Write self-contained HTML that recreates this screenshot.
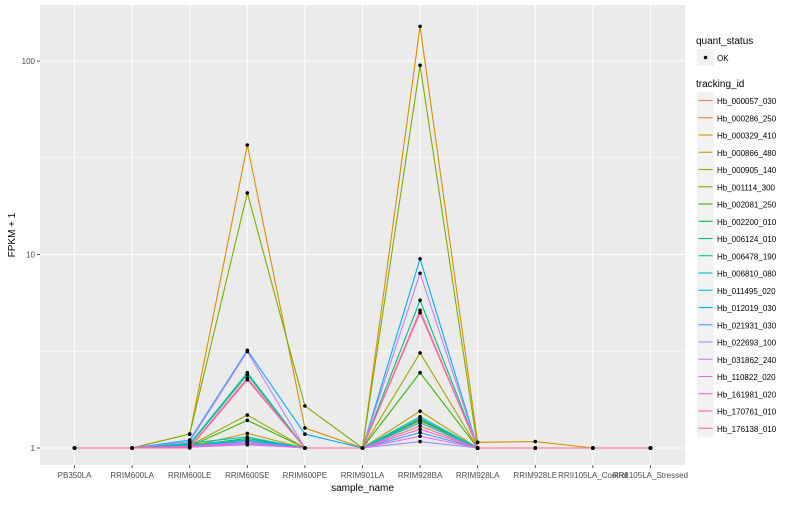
<!DOCTYPE html>
<html><head><meta charset="utf-8"><style>
body{margin:0;background:#fff;font-family:"Liberation Sans",sans-serif}
svg text{font-family:"Liberation Sans",sans-serif}
</style></head><body>
<svg id="c" width="800" height="500"></svg>
<script>
const categories=["PB350LA","RRIM600LA","RRIM600LE","RRIM600SE","RRIM600PE","RRIM901LA","RRIM928BA","RRIM928LA","RRIM928LE","RRII105LA_Control","RRII105LA_Stressed"];
const seriesNames=["Hb_000057_030","Hb_000286_250","Hb_000329_410","Hb_000866_480","Hb_000905_140","Hb_001114_300","Hb_002081_250","Hb_002200_010","Hb_006124_010","Hb_006478_190","Hb_006810_080","Hb_011495_020","Hb_012019_030","Hb_021931_030","Hb_022693_100","Hb_031862_240","Hb_110822_020","Hb_161981_020","Hb_170761_010","Hb_176138_010"];
const colors=["#F8766D","#EA8331","#D89000","#C09B00","#A3A500","#7CAE00","#39B600","#00BB4E","#00BF7D","#00C1A3","#00BFC4","#00BAE0","#00B0F6","#35A2FF","#9590FF","#C77CFF","#E76BF3","#FA62DB","#FF62BC","#FF6C91"];
const s01=[1,1,1.03,1.1,1,1,1.3,1,1,1,1];
const s02=[1,1,1.05,1.08,1,1,1.38,1,1,1,1];
const s03=[1,1,1.18,36.8,1.27,1,151,1.07,1.08,1,1];
const s04=[1,1,1.02,1.19,1,1,1.55,1,1,1,1];
const s05=[1,1,1.03,1.48,1,1,3.1,1,1,1,1];
const s06=[1,1,1.18,20.8,1.65,1,95,1,1,1,1];
const s07=[1,1,1.02,1.39,1,1,2.45,1,1,1,1];
const s08=[1,1,1.03,1.12,1,1,1.4,1,1,1,1];
const s09=[1,1,1.04,2.4,1,1,5.8,1,1,1,1];
const s10=[1,1,1.05,2.45,1,1,1.42,1,1,1,1];
const s11=[1,1,1.06,1.14,1,1,1.45,1,1,1,1];
const s12=[1,1,1.03,1.1,1,1,1.35,1,1,1,1];
const s13=[1,1,1.1,3.2,1.18,1,9.5,1,1,1,1];
const s14=[1,1,1.02,1.08,1,1,1.2,1,1,1,1];
const s15=[1,1,1.01,1.04,1,1,1.08,1,1,1,1];
const s16=[1,1,1.08,3.15,1,1,8,1,1,1,1];
const s17=[1,1,1.02,1.06,1,1,1.15,1,1,1,1];
const s18=[1,1,1.01,1.05,1,1,1.25,1,1,1,1];
const s19=[1,1,1.01,2.3,1,1,5.0,1,1,1,1];
const s20=[1,1,1.0,2.25,1,1,5.15,1,1,1,1];
const seriesValues=[s01,s02,s03,s04,s05,s06,s07,s08,s09,s10,s11,s12,s13,s14,s15,s16,s17,s18,s19,s20];
const yTicks=[1,10,100];
const yMinor=[Math.sqrt(10),Math.sqrt(1000)];

const NS="http://www.w3.org/2000/svg";
const svg=document.getElementById('c');
function el(tag,attrs,parent){const e=document.createElementNS(NS,tag);for(const k in attrs)e.setAttribute(k,attrs[k]);(parent||svg).appendChild(e);return e;}
const PL=40,PR=685,PT=5,PB=465;
const xs=i=>PL+(i+0.6)*(PR-PL)/(categories.length+0.2);
const ys=v=>448-Math.log10(v)*193.5;

const panel=el('rect',{x:PL,y:PT,width:PR-PL,height:PB-PT,fill:'#EBEBEB'});


yMinor.forEach(v=>{const l=el('line',{x1:PL,x2:PR,y1:ys(v),y2:ys(v),stroke:'#fff','stroke-width':0.5});

});
yTicks.forEach(v=>{const l=el('line',{x1:PL,x2:PR,y1:ys(v),y2:ys(v),stroke:'#fff','stroke-width':1});


const t=el('text',{x:35,y:ys(v)+3,'text-anchor':'end','font-size':8,fill:'#4D4D4D'});t.textContent=v;


el('line',{x1:37,x2:PL,y1:ys(v),y2:ys(v),stroke:'#333','stroke-width':0.8});});
categories.forEach((c,i)=>{const l=el('line',{x1:xs(i),x2:xs(i),y1:PT,y2:PB,stroke:'#fff','stroke-width':1});


el('line',{x1:xs(i),x2:xs(i),y1:PB,y2:PB+3,stroke:'#333','stroke-width':0.8});
const t=el('text',{x:xs(i),y:478,'text-anchor':'middle','font-size':8,fill:'#4D4D4D'});t.textContent=c;

});
seriesValues.forEach((vals,si)=>{
 const p=el('polyline',{points:vals.map((v,i)=>xs(i)+','+ys(v)).join(' '),fill:'none',stroke:colors[si],'stroke-width':1.1});
 
 
});
seriesValues.forEach(vals=>vals.forEach((v,i)=>{const d=el('circle',{cx:xs(i),cy:ys(v),r:1.8,fill:'#000'});

}));
const xt=el('text',{x:(PL+PR)/2,y:491,'text-anchor':'middle','font-size':10,fill:'#000'});xt.textContent='sample_name';


const yt=el('text',{x:0,y:0,'text-anchor':'middle','font-size':10,fill:'#000',transform:'translate(15,235) rotate(-90)'});yt.textContent='FPKM + 1';


// legend
const lt=el('text',{x:696,y:44,'font-size':10});lt.textContent='quant_status';


el('rect',{x:697,y:49,width:17,height:17,fill:'#F2F2F2'});
el('circle',{cx:705.5,cy:57.5,r:1.8,fill:'#000'});
const ok=el('text',{x:717,y:61,'font-size':8});ok.textContent='OK';


const lt2=el('text',{x:696,y:87,'font-size':10});lt2.textContent='tracking_id';


seriesNames.forEach((n,i)=>{const y=92+i*17.25;
 el('rect',{x:697,y:y,width:17,height:17,fill:'#F2F2F2'});
 el('line',{x1:698.5,x2:712.5,y1:y+8.5,y2:y+8.5,stroke:colors[i],'stroke-width':1.1});
 const t=el('text',{x:717,y:y+12,'font-size':8});t.textContent=n;
 
 });
</script>
</body></html>
